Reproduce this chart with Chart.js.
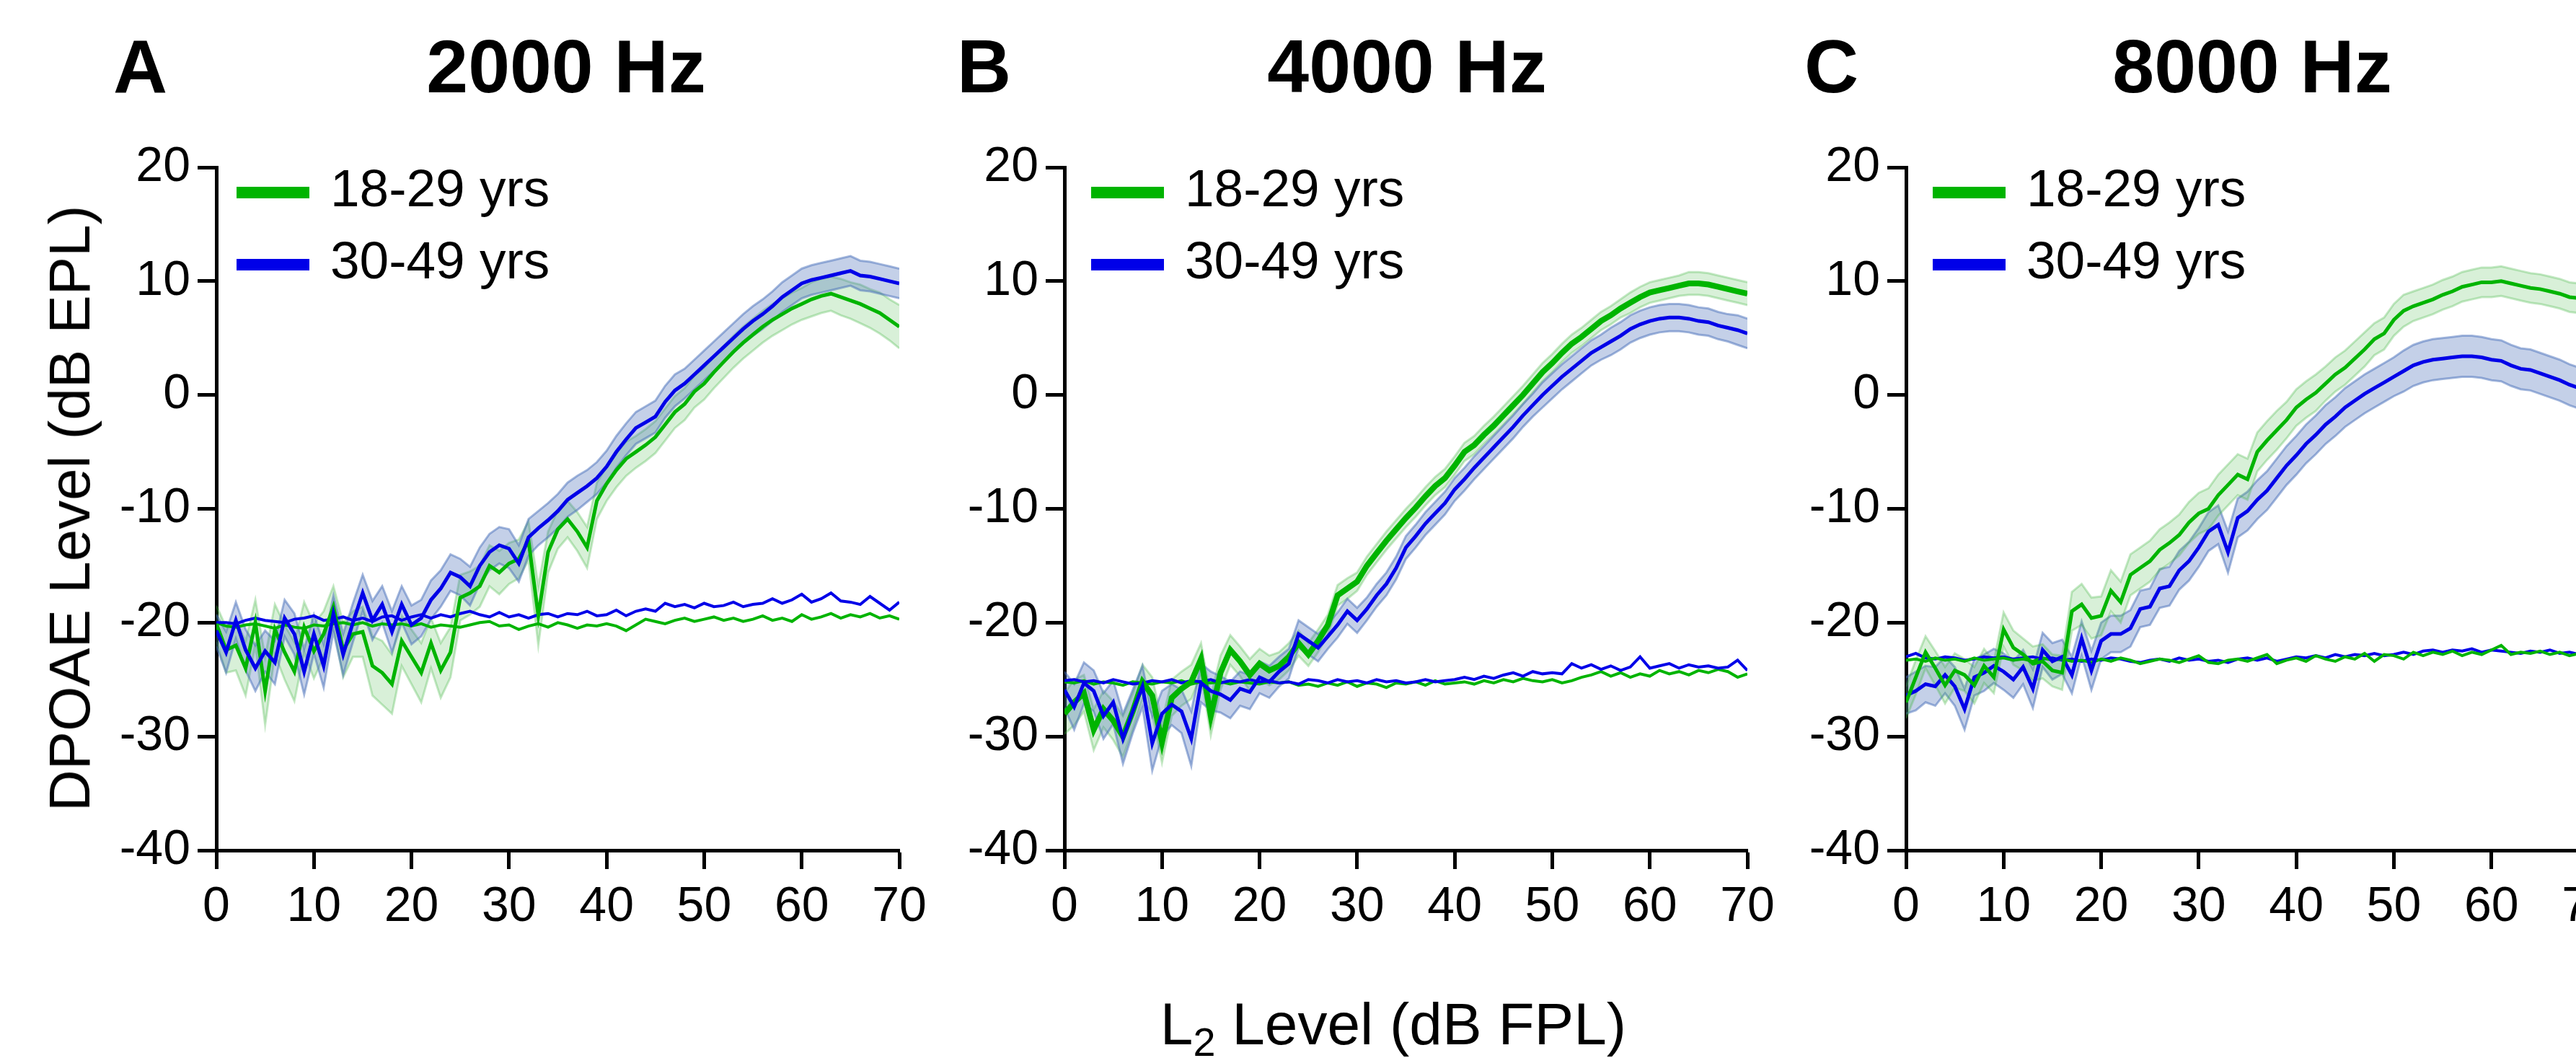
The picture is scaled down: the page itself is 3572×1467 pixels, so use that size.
<!DOCTYPE html>
<html>
<head>
<meta charset="utf-8">
<script src="https://cdn.jsdelivr.net/npm/chart.js@4.4.1/dist/chart.umd.min.js"></script>
<style>
  body { margin: 0; width: 3572px; height: 1467px; overflow: hidden; background: #fff; position: relative; font-family: "Liberation Sans", Arial, sans-serif; }
  .panel { position: absolute; top: 0; width: 1208px; height: 1467px; }
  .letter, .title { position: absolute; top: 40px; font-weight: bold; font-size: 104px; line-height: 104px; white-space: nowrap; }
  .title { width: 600px; text-align: center; }
  #ytitle { position: absolute; left: 97px; top: 705px; font-size: 80px; line-height: 80px; white-space: nowrap; transform: translate(-50%, -50%) rotate(-90deg); }
  #xtitle { position: absolute; left: 1932px; top: 1379px; font-size: 82px; line-height: 82px; white-space: nowrap; transform: translateX(-50%); }
  #xtitle sub { font-size: 0.68em; line-height: 0; vertical-align: -0.28em; }
</style>
</head>
<body>
<div class="panel" style="left:100px"><canvas id="chartA"></canvas></div>
<div class="panel" style="left:1276px"><canvas id="chartB"></canvas></div>
<div class="panel" style="left:2443px"><canvas id="chartC"></canvas></div>

<div class="letter" style="left:157px">A</div>
<div class="letter" style="left:1327px">B</div>
<div class="letter" style="left:2502px">C</div>
<div class="title" style="left:485px">2000 Hz</div>
<div class="title" style="left:1651px">4000 Hz</div>
<div class="title" style="left:2823px">8000 Hz</div>
<div id="ytitle">DPOAE Level (dB EPL)</div>
<div id="xtitle">L<sub>2</sub> Level (dB FPL)</div>

<script>
// L2 level (dB FPL), 1 dB steps
const levels = [0,1,2,3,4,5,6,7,8,9,10,11,12,13,14,15,16,17,18,19,20,21,22,23,24,25,26,27,28,29,30,31,32,33,34,35,36,37,38,39,40,41,42,43,44,45,46,47,48,49,50,51,52,53,54,55,56,57,58,59,60,61,62,63,64,65,66,67,68,69,70];
const groupLabels = ['18-29 yrs', '30-49 yrs'];
const yTicks = [-40, -30, -20, -10, 0, 10, 20];

// ---- 2000 Hz ----
const aYoung = [-20.1,-22.4,-22.0,-24.0,-20.0,-26.0,-20.6,-22.6,-24.3,-20.4,
  -22.5,-21.0,-18.6,-22.4,-21.0,-20.8,-23.8,-24.4,-25.4,-21.6,
  -23.0,-24.4,-21.8,-24.2,-22.6,-17.8,-17.4,-16.8,-15.0,-15.6,
  -14.8,-14.4,-12.8,-19.4,-13.8,-11.8,-10.9,-12.0,-13.4,-9.3,
  -7.8,-6.6,-5.6,-5.0,-4.4,-3.7,-2.6,-1.5,-0.8,0.3,
  1.0,2.0,2.9,3.8,4.6,5.3,6.0,6.6,7.1,7.6,
  8.0,8.4,8.7,8.9,8.6,8.3,8.0,7.6,7.2,6.6,6.0];
const aOld = [-20.7,-22.6,-19.8,-22.4,-24.0,-22.5,-23.5,-19.6,-21.0,-24.3,
  -21.0,-23.8,-19.2,-22.8,-20.0,-17.4,-19.8,-18.4,-20.8,-18.4,
  -20.2,-19.6,-18.0,-17.0,-15.6,-16.0,-16.8,-15.0,-13.8,-13.2,
  -13.5,-14.8,-12.5,-11.7,-11.0,-10.2,-9.2,-8.6,-8.0,-7.3,
  -6.3,-5.0,-3.9,-2.9,-2.4,-1.9,-0.6,0.4,1.0,1.8,
  2.6,3.4,4.2,5.0,5.8,6.5,7.1,7.8,8.6,9.2,
  9.8,10.1,10.3,10.5,10.7,10.9,10.5,10.4,10.2,10.0,9.8];
const aYoungSem = [1.6,2.0,2.2,2.4,2.0,3.0,2.2,2.4,2.6,2.2,2.4,2.0,1.8,2.4,2.0,2.2,2.6,2.8,2.6,2.2,2.4,2.6,2.2,2.4,2.2,
  2.0,1.9,1.8,1.8,1.9,1.8,1.7,1.7,2.6,1.8,1.7,1.6,1.7,1.8,1.6,1.5,
  1.5,1.5,1.4,1.4,1.4,1.4,1.4,1.4,1.4,1.4,1.4,1.4,1.4,1.4,1.4,1.4,1.4,1.4,1.4,1.4,1.5,1.5,1.5,1.6,1.6,1.7,1.7,1.8,1.8,1.9];
const aOldSem = [1.4,1.8,1.6,1.8,2.0,1.8,1.9,1.6,1.8,2.0,1.7,1.9,1.6,1.8,1.7,1.6,1.7,1.6,1.8,1.6,1.7,1.6,1.7,1.6,1.6,
  1.6,1.7,1.6,1.6,1.6,1.7,1.6,1.6,1.5,1.5,1.5,1.5,1.5,1.4,1.4,1.4,
  1.4,1.4,1.4,1.4,1.4,1.4,1.4,1.3,1.3,1.3,1.3,1.3,1.3,1.3,1.3,1.3,1.3,1.3,1.3,1.3,1.3,1.3,1.3,1.3,1.3,1.3,1.3,1.3,1.3,1.3];
const aYoungNF = [-20.0,-20.3,-20.4,-20.2,-20.1,-20.3,-20.5,-20.2,-20.4,-20.5,
  -20.2,-20.3,-20.1,-20.0,-20.2,-20.0,-20.3,-20.1,-20.2,-20.1,
  -20.3,-20.1,-20.4,-20.2,-20.3,-20.4,-20.2,-20.0,-19.9,-20.3,
  -20.2,-20.6,-20.3,-20.1,-20.4,-20.0,-20.2,-20.5,-20.2,-20.3,
  -20.1,-20.3,-20.7,-20.2,-19.7,-19.9,-20.1,-19.8,-19.6,-19.9,
  -19.7,-19.5,-19.8,-19.6,-19.9,-19.7,-19.4,-19.8,-19.6,-19.9,
  -19.3,-19.7,-19.5,-19.2,-19.6,-19.3,-19.5,-19.2,-19.6,-19.4,-19.7];
const aOldNF = [-20.0,-20.0,-20.1,-19.8,-19.6,-19.8,-19.9,-20.0,-19.7,-19.6,
  -19.4,-19.8,-19.7,-19.5,-19.8,-19.6,-19.9,-19.5,-19.4,-19.8,
  -19.5,-19.3,-19.6,-19.3,-19.5,-19.2,-19.0,-19.3,-19.5,-19.1,
  -19.5,-19.3,-19.6,-19.3,-19.2,-19.5,-19.2,-19.3,-19.0,-19.4,
  -19.3,-18.9,-19.4,-19.0,-18.8,-19.0,-18.3,-18.6,-18.4,-18.7,
  -18.3,-18.6,-18.5,-18.2,-18.6,-18.4,-18.3,-17.9,-18.3,-18.0,
  -17.5,-18.2,-17.9,-17.4,-18.1,-18.2,-18.4,-17.7,-18.3,-18.9,-18.2];

// ---- 4000 Hz ----
const bYoung = [-28.0,-27.0,-26.2,-29.4,-27.6,-28.6,-30.0,-27.8,-25.2,-26.4,
  -30.5,-26.6,-25.8,-25.2,-23.2,-28.2,-24.4,-22.4,-23.4,-24.6,
  -23.6,-24.2,-23.8,-23.0,-21.8,-22.8,-21.6,-20.2,-17.6,-17.0,
  -16.4,-15.0,-13.9,-12.8,-11.8,-10.8,-9.9,-8.9,-8.0,-7.3,
  -6.2,-5.0,-4.4,-3.5,-2.7,-1.8,-0.9,0.0,1.0,2.0,
  2.8,3.7,4.5,5.1,5.8,6.5,7.0,7.6,8.1,8.6,
  9.0,9.2,9.4,9.6,9.8,9.8,9.7,9.5,9.3,9.1,8.9];
const bOld = [-25.9,-27.4,-25.3,-26.0,-28.2,-27.0,-30.2,-27.8,-25.6,-30.6,
  -28.0,-27.2,-27.8,-30.2,-25.3,-26.0,-26.3,-26.8,-25.8,-26.1,
  -24.8,-25.2,-24.3,-23.6,-21.0,-21.6,-22.2,-21.2,-20.2,-19.0,
  -19.8,-18.8,-17.6,-16.6,-15.2,-13.4,-12.4,-11.3,-10.4,-9.5,
  -8.3,-7.4,-6.4,-5.5,-4.6,-3.7,-2.8,-1.8,-0.9,0.0,
  0.8,1.6,2.3,3.0,3.7,4.2,4.7,5.2,5.8,6.2,
  6.5,6.7,6.8,6.8,6.7,6.5,6.4,6.1,5.9,5.7,5.4];
const bYoungSem = [1.8,2.0,1.6,1.8,1.6,1.7,1.8,1.6,1.5,1.6,1.8,1.6,1.5,1.5,1.4,1.7,1.5,1.3,1.3,1.4,1.3,1.3,1.2,1.2,1.1,
  1.0,1.0,0.9,0.9,0.9,0.8,0.8,0.8,0.8,0.8,0.8,0.8,0.8,0.8,0.8,0.8,
  0.8,0.8,0.8,0.8,0.8,0.8,0.8,0.8,0.8,0.8,0.8,0.8,0.8,0.8,0.8,0.8,0.8,0.9,0.9,0.9,0.9,0.9,0.9,1.0,1.0,1.0,1.0,1.0,1.0,1.0];
const bOldSem = [1.6,2.0,1.8,1.8,2.0,1.9,2.2,1.9,1.8,2.4,2.0,1.8,1.9,2.4,1.7,1.7,1.6,1.6,1.5,1.5,1.4,1.4,1.3,1.3,1.2,
  1.2,1.2,1.1,1.1,1.1,1.1,1.0,1.0,1.0,1.0,1.0,1.0,1.0,1.0,1.0,1.0,
  1.0,1.0,1.0,1.0,1.0,1.0,1.0,1.0,1.1,1.1,1.1,1.1,1.1,1.1,1.1,1.2,1.2,1.2,1.2,1.2,1.2,1.2,1.2,1.2,1.2,1.2,1.2,1.2,1.3,1.3];
const bYoungNF = [-25.2,-25.3,-25.1,-25.4,-25.2,-25.3,-25.5,-25.2,-25.3,-25.4,
  -25.2,-25.3,-25.1,-25.4,-25.2,-25.3,-25.2,-25.4,-25.2,-25.3,
  -25.4,-25.2,-25.3,-25.2,-25.5,-25.4,-25.6,-25.3,-25.5,-25.2,
  -25.6,-25.3,-25.4,-25.7,-25.3,-25.4,-25.2,-25.5,-25.1,-25.4,
  -25.3,-25.2,-25.4,-25.1,-25.3,-25.0,-25.2,-24.9,-25.1,-25.2,
  -25.0,-25.3,-25.1,-24.8,-24.6,-24.3,-24.7,-24.4,-24.8,-24.5,
  -24.7,-24.2,-24.5,-24.3,-24.6,-24.2,-24.4,-24.1,-24.3,-24.8,-24.5];
const bOldNF = [-25.1,-25.0,-25.2,-25.1,-25.3,-25.0,-25.2,-25.4,-25.3,-25.1,
  -25.2,-25.0,-25.3,-25.1,-25.2,-25.0,-25.3,-25.1,-25.2,-25.0,
  -25.2,-25.1,-25.3,-25.2,-25.4,-25.0,-25.1,-25.3,-25.0,-25.2,
  -25.1,-25.3,-25.0,-25.2,-25.1,-25.3,-25.2,-25.0,-25.2,-25.1,
  -25.0,-24.8,-25.0,-24.7,-24.9,-24.6,-24.4,-24.7,-24.3,-24.5,
  -24.4,-24.5,-23.6,-24.0,-23.7,-24.1,-23.8,-24.2,-23.9,-23.0,
  -24.0,-23.8,-23.6,-24.0,-23.7,-23.9,-23.8,-24.0,-23.9,-23.3,-24.2];

// ---- 8000 Hz ----
const cYoung = [-27.0,-24.8,-22.6,-24.0,-25.5,-24.2,-24.6,-25.5,-23.8,-24.8,
  -20.6,-22.2,-22.8,-23.6,-23.4,-24.2,-24.4,-19.0,-18.4,-19.6,
  -19.4,-17.2,-18.2,-15.8,-15.2,-14.6,-13.6,-13.0,-12.3,-11.2,
  -10.4,-10.0,-8.8,-7.9,-7.0,-7.4,-5.0,-4.0,-3.1,-2.2,
  -1.1,-0.4,0.2,1.0,1.8,2.4,3.2,4.0,4.9,5.4,
  6.6,7.4,7.8,8.1,8.4,8.8,9.1,9.5,9.7,9.9,
  9.9,10.0,9.8,9.6,9.4,9.3,9.1,8.9,8.6,8.5,8.3];
const cOld = [-26.4,-26.0,-25.4,-25.6,-24.6,-25.6,-27.6,-24.8,-24.4,-23.8,
  -24.3,-25.0,-23.9,-25.8,-22.4,-23.4,-23.0,-24.6,-21.4,-24.2,
  -21.6,-21.0,-21.0,-20.5,-18.8,-18.6,-17.0,-16.8,-15.4,-14.6,
  -13.4,-12.0,-11.4,-13.8,-10.8,-10.2,-9.2,-8.4,-7.3,-6.2,
  -5.3,-4.3,-3.5,-2.6,-1.9,-1.1,-0.5,0.1,0.6,1.1,
  1.6,2.1,2.6,2.9,3.1,3.2,3.3,3.4,3.4,3.3,
  3.1,3.0,2.6,2.3,2.2,1.9,1.6,1.3,0.9,0.6,0.3];
const cYoungSem = [1.4,1.5,1.4,1.5,1.6,1.5,1.4,1.6,1.5,1.4,1.5,1.5,1.4,1.5,1.5,1.4,1.5,
  1.7,1.8,1.8,1.7,1.8,1.8,1.8,1.8,1.8,1.8,1.8,1.8,1.8,1.8,1.8,1.8,1.8,1.8,1.8,1.7,1.7,1.7,1.6,1.6,
  1.6,1.6,1.5,1.5,1.5,1.5,1.5,1.4,1.4,1.4,1.4,1.3,1.3,1.3,1.3,1.3,1.3,1.3,1.3,1.3,1.3,1.3,1.3,1.3,1.3,1.3,1.3,1.3,1.3,1.3];
const cOldSem = [1.6,1.7,1.6,1.7,1.6,1.7,1.8,1.6,1.6,1.5,1.6,1.6,1.5,1.7,1.5,1.6,1.5,1.6,1.5,1.7,1.6,
  1.6,1.6,1.6,1.6,1.6,1.7,1.7,1.7,1.7,1.7,1.7,1.7,1.8,1.7,1.7,1.7,1.7,1.7,1.7,1.7,
  1.7,1.7,1.7,1.7,1.7,1.7,1.7,1.7,1.7,1.7,1.8,1.8,1.8,1.8,1.8,1.8,1.8,1.8,1.8,1.8,1.8,1.8,1.8,1.8,1.8,1.8,1.8,1.8,1.8,1.8];
const cYoungNF = [-23.3,-23.2,-23.4,-23.1,-23.3,-23.2,-23.4,-23.1,-23.3,-23.2,
  -23.1,-23.3,-23.2,-23.4,-23.1,-23.3,-23.2,-23.4,-23.3,-23.5,
  -23.2,-23.4,-23.1,-23.3,-23.6,-23.4,-23.2,-23.3,-23.5,-23.2,
  -22.9,-23.5,-23.6,-23.3,-23.2,-23.4,-23.1,-22.8,-23.6,-23.3,
  -23.1,-23.4,-22.9,-23.2,-23.4,-23.0,-23.2,-22.7,-23.4,-22.8,
  -22.9,-23.2,-22.6,-22.9,-22.6,-22.8,-22.5,-22.9,-22.6,-22.8,
  -22.4,-22.0,-22.8,-22.6,-22.7,-22.5,-22.8,-22.6,-22.9,-22.7,-22.8];
const cOldNF = [-23.0,-22.7,-23.1,-23.2,-23.0,-23.1,-23.3,-23.2,-23.0,-23.1,
  -23.0,-23.2,-23.1,-23.0,-23.2,-23.1,-23.3,-23.2,-23.4,-23.2,
  -23.3,-23.1,-23.2,-23.4,-23.5,-23.3,-23.2,-23.4,-23.1,-23.3,
  -23.2,-23.4,-23.3,-23.5,-23.2,-23.1,-23.3,-23.1,-23.4,-23.2,
  -23.0,-23.1,-22.9,-23.1,-22.8,-23.0,-22.8,-22.9,-22.7,-22.9,
  -22.8,-22.6,-22.8,-22.5,-22.4,-22.6,-22.4,-22.5,-22.3,-22.6,
  -22.4,-22.5,-22.6,-22.7,-22.5,-22.6,-22.4,-22.7,-22.6,-22.8,-22.7];

const GREEN = '#00b400';
const BLUE = '#0000e8';
const GREEN_FILL = 'rgba(60,180,60,0.2)';
const GREEN_EDGE = 'rgba(60,180,60,0.3)';
const BLUE_FILL = 'rgba(60,100,180,0.3)';
const BLUE_EDGE = 'rgba(70,110,185,0.5)';
const FONT = '"Liberation Sans", Arial, sans-serif';

Chart.defaults.font.family = FONT;
Chart.defaults.color = '#000';

function pts(arr) {
    return levels.map((x, i) => ({ x: x, y: arr[i] }));
}

// mean line + shaded band (mean +/- sem) + noise floor for one age group
function groupSets(label, mean, sem, nf, color, fill, edge, width, top) {
    const upper = mean.map((m, i) => m + sem[i]);
    const lower = mean.map((m, i) => m - sem[i]);
    const base = { pointRadius: 0, tension: 0 };
    return [
        Object.assign({ label: label, inLegend: true, data: pts(mean), borderColor: color, backgroundColor: color,
            borderWidth: width, fill: false, order: top ? 0 : 1 }, base),
        Object.assign({ label: label + ' noise', data: pts(nf), borderColor: color,
            borderWidth: 4, fill: false, order: top ? 2 : 3 }, base),
        Object.assign({ label: label + ' upper', data: pts(upper), borderColor: edge, backgroundColor: fill,
            borderWidth: 3, fill: '+1', order: top ? 4 : 6 }, base),
        Object.assign({ label: label + ' lower', data: pts(lower), borderColor: edge,
            borderWidth: 3, fill: false, order: top ? 5 : 7 }, base)
    ];
}

// legend drawn inside the plot, top-left
const insideLegend = {
    id: 'insideLegend',
    afterDatasetsDraw(chart, args, opts) {
        const ctx = chart.ctx;
        const left = chart.chartArea.left + opts.offset;
        const top = chart.chartArea.top;
        ctx.save();
        ctx.font = '73px ' + FONT;
        ctx.textBaseline = 'alphabetic';
        chart.data.datasets.filter(d => d.inLegend).forEach((d, i) => {
            const y = top + 35 + i * 100;
            ctx.fillStyle = d.borderColor;
            ctx.fillRect(left, y - 8, 101, 16);
            ctx.fillStyle = '#000';
            ctx.fillText(d.label, left + 130, y + 19);
        });
        ctx.restore();
    }
};

function makePanel(id, young, youngSem, youngNF, old, oldSem, oldNF, opts) {
    const datasets = groupSets(groupLabels[0], young, youngSem, youngNF, GREEN, GREEN_FILL, GREEN_EDGE, opts.youngWidth, opts.youngTop)
        .concat(groupSets(groupLabels[1], old, oldSem, oldNF, BLUE, BLUE_FILL, BLUE_EDGE, 5, !opts.youngTop));
    // legend order: green first
    return new Chart(document.getElementById(id).getContext('2d'), {
        type: 'line',
        data: { datasets: datasets },
        options: {
            responsive: true,
            maintainAspectRatio: false,
            animation: false,
            layout: { padding: { top: 232, right: 61, bottom: 168, left: 0 } },
            plugins: {
                legend: { display: false },
                tooltip: { enabled: false },
                insideLegend: { offset: opts.legendOffset }
            },
            scales: {
                x: {
                    type: 'linear', min: 0, max: 70,
                    afterFit: s => { s.height = 120; },
                    ticks: { stepSize: 10, font: { size: 68 }, color: '#000', padding: 12 },
                    grid: { drawOnChartArea: false, tickLength: 26, tickWidth: 5, tickColor: '#000' },
                    border: { color: '#000', width: 5 }
                },
                y: {
                    type: 'linear', min: yTicks[0], max: yTicks[yTicks.length - 1],
                    afterFit: s => { s.width = 200; },
                    ticks: { stepSize: 10, font: { size: 68 }, color: '#000', padding: 10 },
                    grid: { drawOnChartArea: false, tickLength: 26, tickWidth: 5, tickColor: '#000' },
                    border: { color: '#000', width: 5 }
                }
            }
        },
        plugins: [insideLegend]
    });
}

makePanel('chartA', aYoung, aYoungSem, aYoungNF, aOld, aOldSem, aOldNF, { youngWidth: 5, youngTop: false, legendOffset: 28 });
makePanel('chartB', bYoung, bYoungSem, bYoungNF, bOld, bOldSem, bOldNF, { youngWidth: 8, youngTop: false, legendOffset: 37 });
makePanel('chartC', cYoung, cYoungSem, cYoungNF, cOld, cOldSem, cOldNF, { youngWidth: 5, youngTop: true, legendOffset: 37 });
</script>
</body>
</html>
